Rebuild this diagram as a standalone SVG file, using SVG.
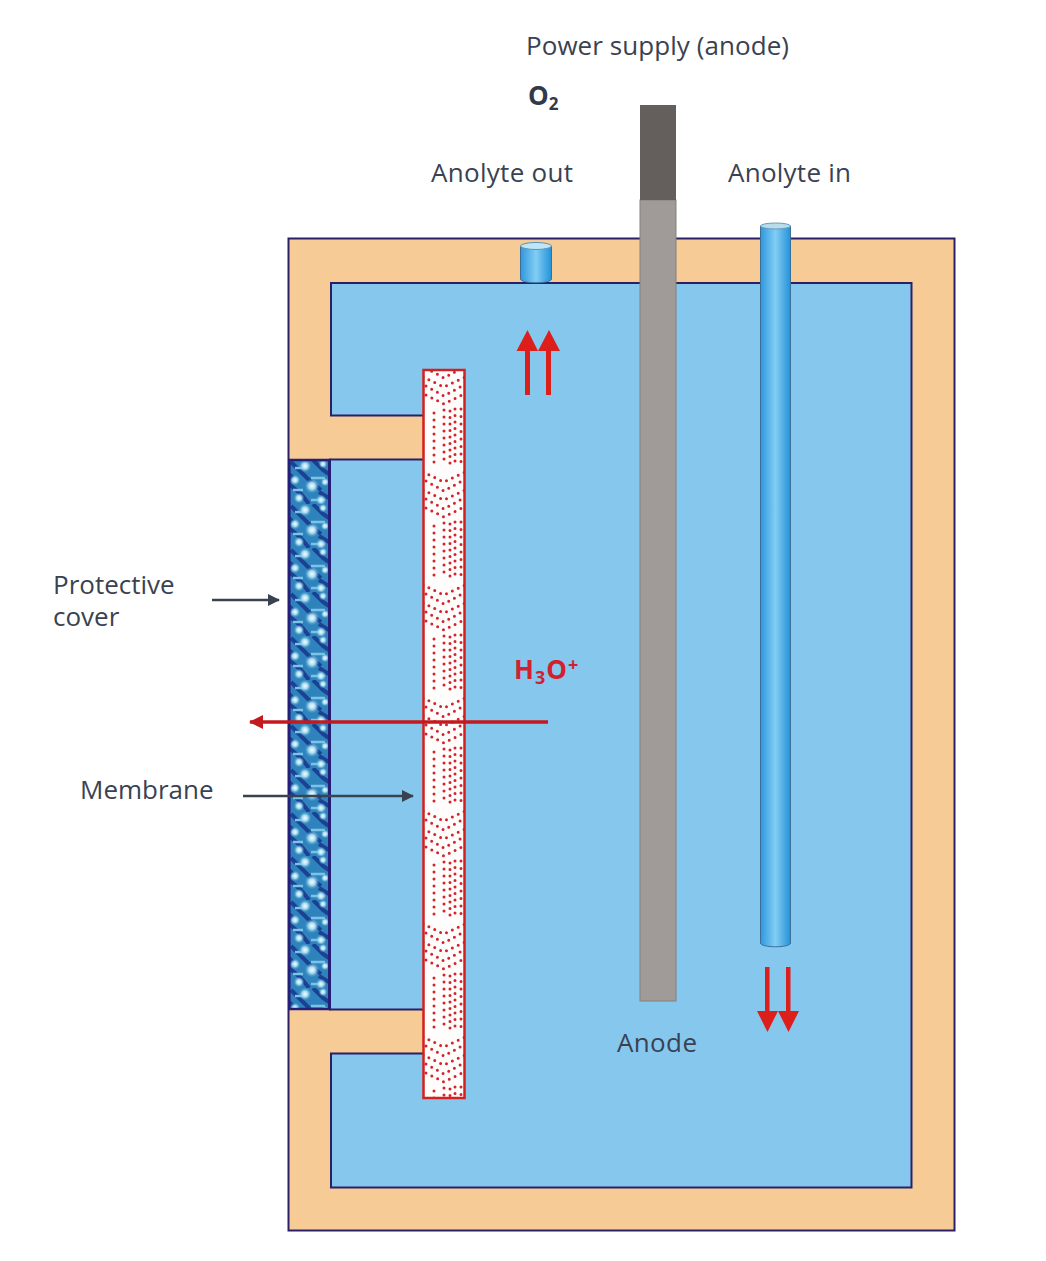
<svg xmlns="http://www.w3.org/2000/svg" width="1046" height="1261" viewBox="0 0 1046 1261">
<style>
.t{font-family:"Open Sans","Noto Sans","Liberation Sans",sans-serif;font-size:26px;fill:#3a4252}
.b{font-family:"Open Sans","Noto Sans","Liberation Sans",sans-serif;font-size:26px;font-weight:700}
.col{fill:none;stroke:#d4232a;stroke-linecap:round;stroke-width:3}
.chev{fill:none;stroke:#d4232a;stroke-linecap:round;stroke-width:3;stroke-dasharray:0 6.500}
</style>
<defs>
<linearGradient id="pipe" x1="0" x2="1" y1="0" y2="0"><stop offset="0" stop-color="#3098dc"/><stop offset=".5" stop-color="#82cdf4"/><stop offset="1" stop-color="#2292d8"/></linearGradient>
<radialGradient id="spot"><stop offset="0" stop-color="#f4fcff"/><stop offset=".45" stop-color="#a8dcee"/><stop offset="1" stop-color="#4a9fd0" stop-opacity="0"/></radialGradient>
<filter id="soft" x="0" y="0" width="1" height="1"><feGaussianBlur stdDeviation="0.700"/></filter>
<pattern id="cover" width="40" height="44" patternUnits="userSpaceOnUse" x="289" y="460">
<rect width="40" height="44" fill="#2f83bd"/>
<path d="M2 2L12 12L22 22L32 30M24 0L34 10L40 14M0 24L12 34L20 44M30 32L40 38M0 14L4 18" fill="none" stroke="#1a3f92" stroke-width="4"/>
<path d="M6 8H18M22 18H36M4 30H14M22 40H36" fill="none" stroke="#7cc4e6" stroke-width="2.500"/>
<circle cx="16" cy="6" r="6.500" fill="url(#spot)"/><circle cx="34" cy="4" r="4.500" fill="url(#spot)"/><circle cx="6" cy="20" r="5.500" fill="url(#spot)"/><circle cx="23" cy="26" r="7.500" fill="url(#spot)"/><circle cx="36" cy="22" r="4.500" fill="url(#spot)"/><circle cx="10" cy="38" r="5.500" fill="url(#spot)"/><circle cx="32" cy="40" r="5.500" fill="url(#spot)"/>
</pattern>
<pattern id="dots" width="42" height="113" patternUnits="userSpaceOnUse" x="423" y="357">
<rect width="42" height="113" fill="#fffdfc"/>
<path class="chev" d="M0 2L21 12L42 2M3 11L21 21L39 11M0 20L21 30L42 20M3 29L21 39L39 29M3 38L21 47L39 38"/>
<path class="col" stroke-dasharray="0 7" d="M11 56V106M21 53V106"/>
<path class="col" stroke-width="3.400" stroke-dasharray="0 6.500" d="M27 54V108M32 52V108"/>
<path class="col" stroke-dasharray="0 7.500" d="M38 52V110"/>
</pattern>
<marker id="ah" markerUnits="userSpaceOnUse" markerWidth="12" markerHeight="12" refX="11" refY="6" orient="auto"><path d="M0 0L12 6L0 12Z" fill="#3a4252"/></marker>
<marker id="ar" markerUnits="userSpaceOnUse" markerWidth="14" markerHeight="14" refX="13" refY="7" orient="auto"><path d="M0 0L14 7L0 14Z" fill="#c21a1f"/></marker>
</defs>

<g id="tank">
<rect x="288.500" y="238.500" width="666" height="992" fill="#f6cb95" stroke="#2b2068" stroke-width="2"/>
<path d="M331 283H911.500V1187.500H331V1053.500H424V1009.500H330V459.500H424V415.500H331Z" fill="#86c7ee" stroke="#2b2068" stroke-width="2"/>
</g>
<g id="protective-cover"><rect x="289.300" y="460" width="40" height="549" fill="url(#cover)" filter="url(#soft)"/><rect x="289.300" y="460" width="40" height="549" fill="none" stroke="#241f78" stroke-width="2.500"/></g>
<g id="membrane"><rect x="423.500" y="370" width="41" height="728" fill="url(#dots)" stroke="#d4201f" stroke-width="2.500"/></g>
<g id="anode">
<rect x="640" y="200" width="36" height="801" fill="#a09a98" stroke="#85807f" stroke-width="1"/>
<rect x="640" y="105" width="36" height="95" fill="#645f5c"/>
</g>
<g id="anolyte-in">
<path d="M760.500 226V943C760.500 948 790.500 948 790.500 943V226Z" fill="url(#pipe)" stroke="#3a6f9e" stroke-width="1"/>
<ellipse cx="775.500" cy="226" rx="15" ry="3" fill="#b8dceb" stroke="#6a9ab8" stroke-width="1"/>
</g>
<g id="anolyte-out">
<path d="M520.500 246V279C520.500 284 551.500 284 551.500 279V246Z" fill="url(#pipe)" stroke="#3a6f9e" stroke-width="1"/>
<ellipse cx="536" cy="246" rx="15.500" ry="3.500" fill="#bfe6f7" stroke="#5f93b5" stroke-width="1"/>
</g>
<g id="connectors">
<path d="M212 600H279" fill="none" stroke="#3a4252" stroke-width="2.500" marker-end="url(#ah)"/>
<path d="M243 796H413" fill="none" stroke="#3a4252" stroke-width="2.500" marker-end="url(#ah)"/>
<path d="M548 722H250" fill="none" stroke="#c21a1f" stroke-width="3.500" marker-end="url(#ar)"/>
<g fill="#dd1f1c">
<path d="M525 395H530V351H538L527.500 330L516.500 351H525Z"/>
<path d="M546 395H551V351H560L549 330L538 351H546Z"/>
<path d="M765 967H769.500V1011H778L767.500 1032L757 1011H765Z"/>
<path d="M786 967H790.500V1011H799L788.500 1032L778 1011H786Z"/>
</g>
</g>
<g id="labels">
<text class="t" x="526" y="55" textLength="263">Power supply (anode)</text>
<text class="b" x="528" y="105" fill="#2f3a4c">O<tspan font-size="17" dy="5">2</tspan></text>
<text class="t" x="431" y="182" textLength="142">Anolyte out</text>
<text class="t" x="728" y="182" textLength="123">Anolyte in</text>
<text class="t" x="53" y="594">Protective<tspan x="53" dy="32">cover</tspan></text>
<text class="t" x="80" y="799">Membrane</text>
<text class="t" x="617" y="1052" fill="#2d4560" textLength="80">Anode</text>
<text class="b" x="514" y="679" fill="#d3202e" font-size="27" letter-spacing="1">H<tspan font-size="18" dy="5">3</tspan><tspan dy="-5">O</tspan><tspan font-size="18" dy="-8">+</tspan></text>
</g>
</svg>
